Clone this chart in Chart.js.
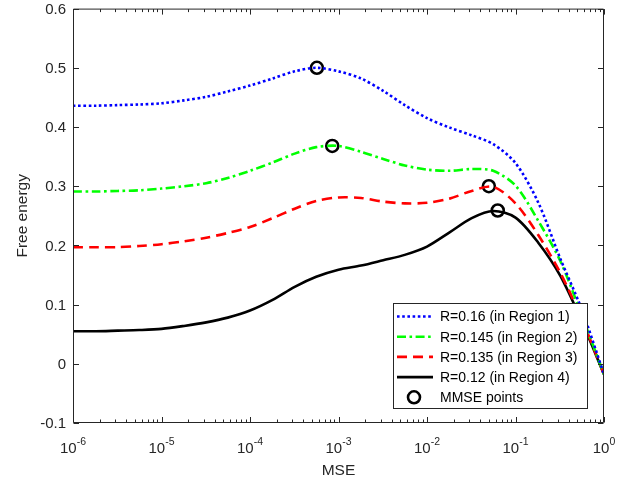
<!DOCTYPE html>
<html>
<head>
<meta charset="utf-8">
<script src="https://cdn.jsdelivr.net/npm/chart.js@4.4.1/dist/chart.umd.min.js"></script>
<style>
  body { margin: 0; background: #fff; }
  #wrap { width: 638px; height: 487px; }
</style>
</head>
<body>
<div id="wrap"><canvas id="fe-chart"></canvas></div>
<script>
// values
var mse = [1e-6, 1.8e-6, 3.2e-6, 5.6e-6, 1e-5, 1.8e-5, 3.2e-5, 5.6e-5, 1e-4, 1.8e-4, 3.2e-4,
           5.6e-4, 1e-3, 1.8e-3, 3.2e-3, 5.6e-3, 1e-2, 1.8e-2, 3.2e-2, 5.6e-2, 0.1, 0.18,
           0.32, 0.56, 1];
var feR016  = [0.436, 0.436, 0.437, 0.438, 0.440, 0.445, 0.451, 0.460, 0.470, 0.482, 0.494,
               0.500, 0.494, 0.482, 0.461, 0.437, 0.415, 0.399, 0.386, 0.371, 0.339, 0.273,
               0.178, 0.092, -0.018];
var feR0145 = [0.291, 0.291, 0.292, 0.293, 0.296, 0.300, 0.305, 0.314, 0.326, 0.340, 0.355,
               0.366, 0.368, 0.358, 0.346, 0.335, 0.328, 0.326, 0.329, 0.326, 0.301, 0.242,
               0.174, 0.082, -0.018];
var feR0135 = [0.197, 0.197, 0.197, 0.199, 0.202, 0.207, 0.213, 0.221, 0.231, 0.246, 0.262,
               0.275, 0.281, 0.280, 0.274, 0.271, 0.272, 0.279, 0.292, 0.299, 0.271, 0.218,
               0.154, 0.076, -0.018];
var feR012  = [0.055, 0.055, 0.056, 0.057, 0.059, 0.064, 0.070, 0.078, 0.090, 0.108, 0.130,
               0.147, 0.159, 0.166, 0.175, 0.184, 0.198, 0.222, 0.246, 0.258, 0.247, 0.205,
               0.149, 0.072, -0.018];
var mmseX = [5.7e-4, 8.5e-4, 0.050, 0.063];
var mmseY = [0.500, 0.368, 0.300, 0.259];

var yTicks = [-0.1, 0, 0.1, 0.2, 0.3, 0.4, 0.5, 0.6];
var yTickLabels = ['-0.1', '0', '0.1', '0.2', '0.3', '0.4', '0.5', '0.6'];
var xExponents = [-6, -5, -4, -3, -2, -1, 0];
var legendLabels = ['R=0.16 (in Region 1)', 'R=0.145 (in Region 2)', 'R=0.135 (in Region 3)',
                    'R=0.12 (in Region 4)', 'MMSE points'];

var FONT = '"Liberation Sans", Arial, Helvetica, sans-serif';
var AXIS = '#262626';

function pts(xs, ys) {
    return xs.map(function (x, i) { return { x: x, y: ys[i] }; });
}

function lineSet(label, ys, color, dash) {
    return {
        label: label,
        data: pts(mse, ys),
        borderColor: color,
        backgroundColor: color,
        borderWidth: 2.6,
        borderDash: dash,
        borderCapStyle: 'butt',
        pointRadius: 0,
        tension: 0.3,
        fill: false
    };
}

// box, inward ticks and tick labels, matlab style
var axesBox = {
    id: 'axesBox',
    afterDatasetsDraw: function (chart) {
        var ctx = chart.ctx, ca = chart.chartArea;
        var xs = chart.scales.x, ys = chart.scales.y;
        var L = ca.left + 0.5, R = ca.right - 0.5, T = ca.top + 0.5, B = ca.bottom - 0.5;
        ctx.save();
        ctx.strokeStyle = AXIS;
        ctx.lineWidth = 1;
        ctx.beginPath();
        ctx.rect(L, T, R - L, B - T);
        ctx.stroke();

        ctx.beginPath();
        yTicks.forEach(function (v) {
            var py = Math.round(ys.getPixelForValue(v)) + 0.5;
            ctx.moveTo(L, py); ctx.lineTo(L + 5.5, py);
            ctx.moveTo(R, py); ctx.lineTo(R - 5.5, py);
        });
        xExponents.forEach(function (e) {
            for (var k = 1; k <= 9; k++) {
                if (e === 0 && k > 1) break;
                var px = Math.round(xs.getPixelForValue(k * Math.pow(10, e))) + 0.5;
                var len = k === 1 ? 5.5 : 3;
                ctx.moveTo(px, B); ctx.lineTo(px, B - len);
                ctx.moveTo(px, T); ctx.lineTo(px, T + len);
            }
        });
        ctx.stroke();

        ctx.fillStyle = AXIS;
        ctx.font = '15px ' + FONT;
        ctx.textAlign = 'right';
        ctx.textBaseline = 'middle';
        yTicks.forEach(function (v, i) {
            ctx.fillText(yTickLabels[i], ca.left - 7, ys.getPixelForValue(v) + 1);
        });

        ctx.textBaseline = 'alphabetic';
        ctx.textAlign = 'left';
        xExponents.forEach(function (e) {
            var px = xs.getPixelForValue(Math.pow(10, e));
            ctx.font = '15px ' + FONT;
            var w1 = ctx.measureText('10').width;
            ctx.font = '10.5px ' + FONT;
            var w2 = ctx.measureText(String(e)).width;
            var x0 = px - (w1 + w2) / 2;
            ctx.font = '15px ' + FONT;
            ctx.fillText('10', x0, ca.bottom + 30);
            ctx.font = '10.5px ' + FONT;
            ctx.fillText(String(e), x0 + w1, ca.bottom + 22);
        });
        ctx.restore();
    },
    afterDraw: function (chart) {
        var ctx = chart.ctx;
        var bx = 393.5, by = 303.5, bw = 194, bh = 105;
        ctx.save();
        ctx.fillStyle = '#fff';
        ctx.fillRect(bx, by, bw, bh);
        ctx.strokeStyle = AXIS;
        ctx.lineWidth = 1;
        ctx.strokeRect(bx, by, bw, bh);
        ctx.font = '14px ' + FONT;
        ctx.textBaseline = 'middle';
        chart.data.datasets.forEach(function (ds, i) {
            var ry = 316.5 + i * 20.2;
            if (ds.showLine === false) {
                ctx.beginPath();
                ctx.arc(414, ry, ds.pointRadius, 0, Math.PI * 2);
                ctx.lineWidth = ds.borderWidth;
                ctx.strokeStyle = ds.borderColor;
                ctx.stroke();
            } else {
                ctx.beginPath();
                ctx.setLineDash(ds.borderDash || []);
                ctx.lineWidth = ds.borderWidth;
                ctx.strokeStyle = ds.borderColor;
                ctx.moveTo(397, ry); ctx.lineTo(433, ry);
                ctx.stroke();
                ctx.setLineDash([]);
            }
            ctx.fillStyle = '#000';
            ctx.fillText(legendLabels[i], 440, ry + 1);
        });
        ctx.restore();
    }
};

var feCtx = document.getElementById('fe-chart').getContext('2d');
var feChart = new Chart(feCtx, {
    type: 'line',
    data: {
        datasets: [
            lineSet(legendLabels[0], feR016, '#0000ff', [2.6, 2.6]),
            lineSet(legendLabels[1], feR0145, '#00ff00', [9, 3.5, 2.6, 3.5]),
            lineSet(legendLabels[2], feR0135, '#ff0000', [10, 6]),
            lineSet(legendLabels[3], feR012, '#000000', []),
            {
                label: legendLabels[4],
                data: pts(mmseX, mmseY),
                showLine: false,
                pointStyle: 'circle',
                pointRadius: 6,
                borderWidth: 2.6,
                borderColor: '#000',
                backgroundColor: 'rgba(0,0,0,0)'
            }
        ]
    },
    plugins: [axesBox],
    options: {
        responsive: true,
        maintainAspectRatio: false,
        animation: false,
        layout: { padding: { top: 7, right: 34, left: 0, bottom: 0 } },
        plugins: {
            legend: { display: false },
            tooltip: { enabled: false }
        },
        scales: {
            x: {
                type: 'logarithmic',
                min: 1e-6,
                max: 1,
                grid: { display: false },
                border: { display: false },
                ticks: { display: false },
                title: {
                    display: true, text: 'MSE', color: AXIS,
                    font: { size: 15.5, family: FONT },
                    padding: { top: 0, bottom: 7 }
                },
                afterFit: function (scale) { scale.height = 64; }
            },
            y: {
                min: -0.1,
                max: 0.6,
                grid: { display: false },
                border: { display: false },
                ticks: { display: false },
                title: {
                    display: true, text: 'Free energy', color: AXIS,
                    font: { size: 15.5, family: FONT },
                    padding: { top: 13, bottom: 0 }
                },
                afterFit: function (scale) { scale.width = 73; }
            }
        }
    }
});
</script>
</body>
</html>
